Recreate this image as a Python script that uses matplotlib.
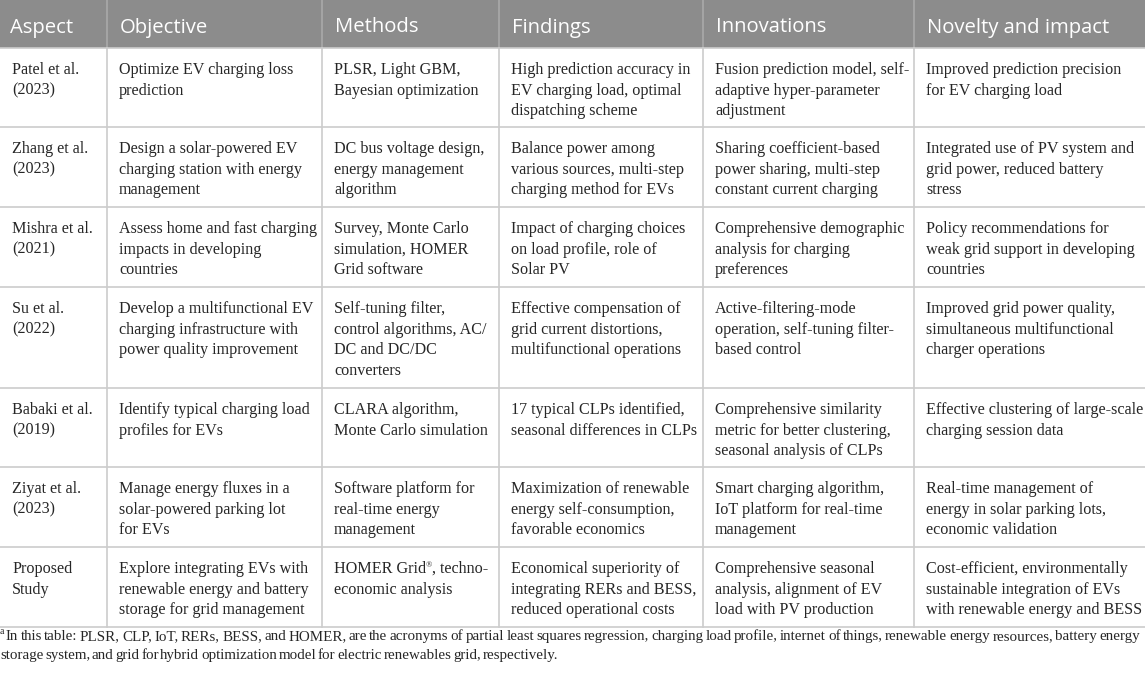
import matplotlib
matplotlib.use("Agg")
import matplotlib.pyplot as plt
from matplotlib.patches import Rectangle

headers=["Aspect","Objective","Methods","Findings","Innovations","Novelty and impact"]

aspects=["Patel et al.\n(2023)","Zhang et al.\n(2023)","Mishra et al.\n(2021)","Su et al.\n(2022)",
         "Babaki et al.\n(2019)","Ziyat et al.\n(2023)","Proposed\nStudy"]
objectives=["Optimize EV charging loss\nprediction",
            "Design a solar-powered EV\ncharging station with energy\nmanagement",
            "Assess home and fast charging\nimpacts in developing\ncountries",
            "Develop a multifunctional EV\ncharging infrastructure with\npower quality improvement",
            "Identify typical charging load\nprofiles for EVs",
            "Manage energy fluxes in a\nsolar-powered parking lot\nfor EVs",
            "Explore integrating EVs with\nrenewable energy and battery\nstorage for grid management"]
methods=["PLSR, Light GBM,\nBayesian optimization",
         "DC bus voltage design,\nenergy management\nalgorithm",
         "Survey, Monte Carlo\nsimulation, HOMER\nGrid software",
         "Self-tuning filter,\ncontrol algorithms, AC/\nDC and DC/DC\nconverters",
         "CLARA algorithm,\nMonte Carlo simulation",
         "Software platform for\nreal-time energy\nmanagement",
         "HOMER Grid®, techno-\neconomic analysis"]
findings=["High prediction accuracy in\nEV charging load, optimal\ndispatching scheme",
          "Balance power among\nvarious sources, multi-step\ncharging method for EVs",
          "Impact of charging choices\non load profile, role of\nSolar PV",
          "Effective compensation of\ngrid current distortions,\nmultifunctional operations",
          "17 typical CLPs identified,\nseasonal differences in CLPs",
          "Maximization of renewable\nenergy self-consumption,\nfavorable economics",
          "Economical superiority of\nintegrating RERs and BESS,\nreduced operational costs"]
innovations=["Fusion prediction model, self-\nadaptive hyper-parameter\nadjustment",
             "Sharing coefficient-based\npower sharing, multi-step\nconstant current charging",
             "Comprehensive demographic\nanalysis for charging\npreferences",
             "Active-filtering-mode\noperation, self-tuning filter-\nbased control",
             "Comprehensive similarity\nmetric for better clustering,\nseasonal analysis of CLPs",
             "Smart charging algorithm,\nIoT platform for real-time\nmanagement",
             "Comprehensive seasonal\nanalysis, alignment of EV\nload with PV production"]
novelty=["Improved prediction precision\nfor EV charging load",
         "Integrated use of PV system and\ngrid power, reduced battery\nstress",
         "Policy recommendations for\nweak grid support in developing\ncountries",
         "Improved grid power quality,\nsimultaneous multifunctional\ncharger operations",
         "Effective clustering of large-scale\ncharging session data",
         "Real-time management of\nenergy in solar parking lots,\neconomic validation",
         "Cost-efficient, environmentally\nsustainable integration of EVs\nwith renewable energy and BESS"]

footnote=["In this table: PLSR, CLP, IoT, RERs, BESS, and HOMER, are the acronyms of partial least squares regression, charging load profile, internet of things, renewable energy resources, battery energy",
          "storage system, and grid for hybrid optimization model for electric renewables grid, respectively."]

columns=[aspects,objectives,methods,findings,innovations,novelty]

# layout (pixels)
W,H=1145,673
col_x=[0,107,322,499,703,914,1145]
row_y=[0,48,127,207,287,388,467,547,627]
pad=12
pitch=20.6
serif="Liberation Serif"
body_fs=11.6
ink="#262626"

fig=plt.figure(figsize=(W/100,H/100),dpi=100)
ax=fig.add_axes([0,0,1,1])
ax.set_xlim(0,W)
ax.set_ylim(H,0)
ax.axis("off")

ax.add_patch(Rectangle((0,0),W,row_y[1],color="#8c8c8c",lw=0))
for x in col_x[1:-1]:
    ax.plot([x,x],[0,row_y[1]],color="#a9a9a9",lw=1.2)
    ax.plot([x,x],[row_y[1],row_y[-1]],color="#cccccc",lw=1.2)
for y in row_y[1:]:
    ax.plot([0,W],[y,y],color="#cccccc",lw=1.2)

for i,h in enumerate(headers):
    ax.text(col_x[i]+10 if i==0 else col_x[i]+13,32.5,h,family="Open Sans",fontsize=14.6,
            color="white",va="baseline",ha="left")

fig.canvas.draw()
rend=fig.canvas.get_renderer()

def width_of(s,fs):
    t=ax.text(0,0,s,family=serif,fontsize=fs)
    w=t.get_window_extent(rend).width
    t.remove()
    return w

for c,col in enumerate(columns):
    for r,cell in enumerate(col):
        top=row_y[r+1]
        for k,line in enumerate(cell.split("\n")):
            x0=col_x[c]+pad
            y=top+26+k*pitch
            if "®" in line:
                a,b=line.split("®")
                ax.text(x0,y,a,family=serif,fontsize=body_fs,color=ink,va="baseline")
                xa=x0+width_of(a,body_fs)
                ax.text(xa,y-6,"®",family=serif,fontsize=6,color=ink,va="baseline")
                ax.text(xa+width_of("®",6),y,b,family=serif,fontsize=body_fs,color=ink,va="baseline")
            else:
                ax.text(x0,y,line,family=serif,fontsize=body_fs,color=ink,va="baseline",ha="left")

# footnote, lines spread to the width they take in the reference
foot_fs=10.8
ax.text(0,634,"a",family=serif,fontsize=7,color=ink,va="baseline")
def put_line(words,x0,x1,y):
    widths=[width_of(w,foot_fs) for w in words]
    sp=(x1-x0-sum(widths))/(len(words)-1)
    x=x0
    for w,wd in zip(words,widths):
        ax.text(x,y,w,family=serif,fontsize=foot_fs,color=ink,va="baseline")
        x+=wd+sp
put_line(footnote[0].split(),6,1140,640)
put_line(footnote[1].split(),0,558,659)

fig.savefig("out.png",dpi=100)
